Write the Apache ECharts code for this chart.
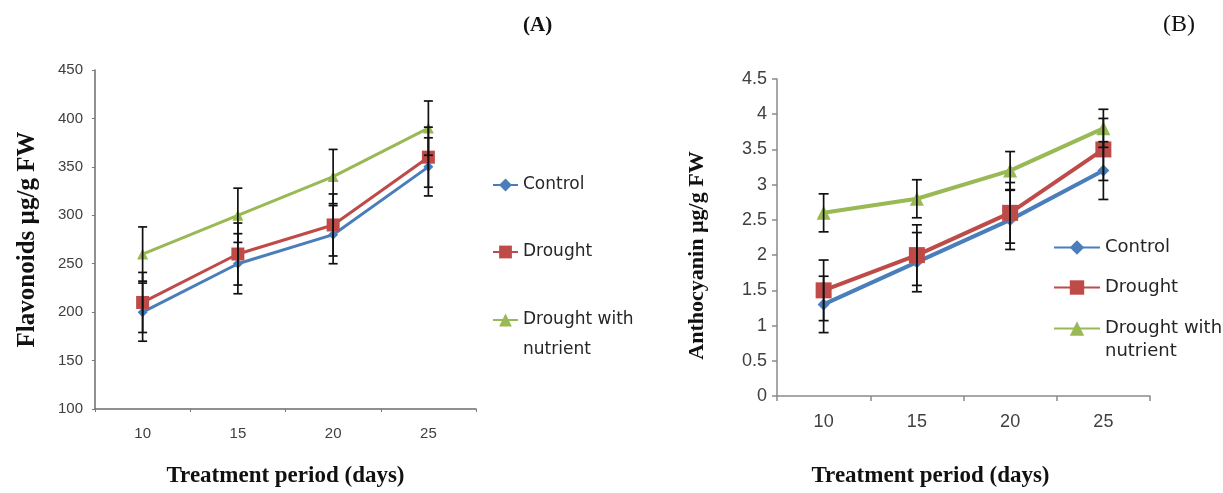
<!DOCTYPE html>
<html>
<head>
<meta charset="utf-8">
<script src="https://cdn.jsdelivr.net/npm/echarts@6/dist/echarts.min.js"></script>
<style>html,body{margin:0;padding:0;background:#fff;}#chart{width:1223px;height:493px;}</style>
</head>
<body>
<div id="chart"></div>
<script>
// ---- data ----
const days = ['10', '15', '20', '25'];
const seriesNames = ['Control', 'Drought', 'Drought with nutrient'];

// (A) Flavonoids µg/g FW
const flavControl = [200, 250, 280, 350];
const flavDrought = [210, 260, 290, 360];
const flavNutrient = [260, 300, 340, 390];
const flavControlErr = [30, 31, 30, 30];
const flavDroughtErr = [31, 32, 32, 31];
const flavNutrientErr = [28, 28, 28, 28];

// (B) Anthocyanin µg/g FW
const anthControl = [1.3, 1.9, 2.5, 3.2];
const anthDrought = [1.5, 2.0, 2.6, 3.5];
const anthNutrient = [2.6, 2.8, 3.2, 3.8];
const anthControlErr = [0.40, 0.42, 0.42, 0.41];
const anthDroughtErr = [0.43, 0.43, 0.43, 0.44];
const anthNutrientErr = [0.27, 0.27, 0.27, 0.27];

const flavTicks = {min: 100, max: 450, interval: 50};
const anthTicks = {min: 0, max: 4.5, interval: 0.5};

// ---- styles ----
const colors = ['#4A7EBB', '#BE4B48', '#98B954'];
const symbols = ['diamond', 'rect', 'triangle'];

const chart = echarts.init(document.getElementById('chart'), null, {renderer: 'canvas'});

function errData(vals, errs) {
  return vals.map((v, i) => [i, v - errs[i], v + errs[i]]);
}
function errSeries(vals, errs, gi, capW) {
  return {
    type: 'custom', xAxisIndex: gi, yAxisIndex: gi, z: 5, silent: true,
    encode: {x: 0, y: [1, 2]},
    data: errData(vals, errs),
    renderItem: function (params, api) {
      const x = api.value(0);
      const lo = api.coord([x, api.value(1)]);
      const hi = api.coord([x, api.value(2)]);
      const st = {stroke: '#111', lineWidth: 1.7};
      return {type: 'group', children: [
        {type: 'line', shape: {x1: hi[0], y1: hi[1], x2: lo[0], y2: lo[1]}, style: st},
        {type: 'line', shape: {x1: hi[0] - capW / 2, y1: hi[1], x2: hi[0] + capW / 2, y2: hi[1]}, style: st},
        {type: 'line', shape: {x1: lo[0] - capW / 2, y1: lo[1], x2: lo[0] + capW / 2, y2: lo[1]}, style: st}
      ]};
    }
  };
}
function lineSeries(name, vals, idx, gi, lw, sizes) {
  return {
    type: 'line', name: name, xAxisIndex: gi, yAxisIndex: gi, z: 3,
    data: vals, symbol: symbols[idx], symbolSize: sizes[idx], showSymbol: true,
    lineStyle: {color: colors[idx], width: lw},
    itemStyle: {color: colors[idx], borderWidth: 0}
  };
}

const sizesA = [10, 13, 11];
const sizesB = [12, 16, 14];
const valsA = [flavControl, flavDrought, flavNutrient];
const errsA = [flavControlErr, flavDroughtErr, flavNutrientErr];
const valsB = [anthControl, anthDrought, anthNutrient];
const errsB = [anthControlErr, anthDroughtErr, anthNutrientErr];

const series = [];
seriesNames.forEach((n, i) => series.push(lineSeries(n, valsA[i], i, 0, 3, sizesA)));
seriesNames.forEach((n, i) => series.push(lineSeries(n, valsB[i], i, 1, 4, sizesB)));
seriesNames.forEach((n, i) => series.push(errSeries(valsA[i], errsA[i], 0, 9)));
seriesNames.forEach((n, i) => series.push(errSeries(valsB[i], errsB[i], 1, 10)));

// the wrapped legend label: a leading blank line keeps "Drought with" level with its icon
const wrapName = n => '\n' + n.replace(' nutrient', '\nnutrient');

function legendBase(left, top, itemW, itemH, fontSize, lh, names, gap, formatter) {
  return {
    orient: 'vertical', left: left, top: top, padding: 0,
    itemWidth: itemW, itemHeight: itemH, itemGap: gap,
    selectedMode: false, data: names, formatter: formatter,
    textStyle: {fontFamily: 'DejaVu Sans', fontSize: fontSize, color: '#262626', lineHeight: lh}
  };
}

const option = {
  animation: false,
  backgroundColor: '#ffffff',
  graphic: [
    {type: 'text', left: 523, top: 15, style: {text: '(A)', font: 'bold 21px "Liberation Serif"', fill: '#111'}},
    {type: 'text', left: 1163, top: 13, style: {text: '(B)', font: '24px "Liberation Serif"', fill: '#111'}}
  ],
  grid: [
    {left: 95, top: 70, width: 381, height: 353, containLabel: false},
    {left: 777, top: 79, width: 373, height: 327, containLabel: false}
  ],
  xAxis: [
    {
      type: 'category', gridIndex: 0, data: days, boundaryGap: true,
      axisLine: {lineStyle: {color: '#6b6b6b', width: 1.5}},
      axisTick: {show: true, length: 3, lineStyle: {color: '#777'}},
      axisLabel: {color: '#404040', fontSize: 15, fontFamily: 'Liberation Sans', margin: 17},
      name: 'Treatment period (days)', nameLocation: 'middle', nameGap: 56,
      nameTextStyle: {fontFamily: 'Liberation Serif', fontWeight: 'bold', fontSize: 23, color: '#111'}
    },
    {
      type: 'category', gridIndex: 1, data: days, boundaryGap: true,
      axisLine: {lineStyle: {color: '#8a8a8a', width: 1.5}},
      axisTick: {show: true, length: 5, lineStyle: {color: '#8a8a8a', width: 1.5}},
      axisLabel: {color: '#404040', fontSize: 18, fontFamily: 'Liberation Sans', margin: 17},
      name: 'Treatment period (days)', nameLocation: 'middle', nameGap: 69,
      nameTextStyle: {fontFamily: 'Liberation Serif', fontWeight: 'bold', fontSize: 23, color: '#111', padding: [0, 66, 0, 0]}
    }
  ],
  yAxis: [
    {
      type: 'value', gridIndex: 0, min: flavTicks.min, max: flavTicks.max, interval: flavTicks.interval,
      splitLine: {show: false},
      axisLine: {show: true, lineStyle: {color: '#6b6b6b', width: 1.5}},
      axisTick: {show: true, length: 3, lineStyle: {color: '#777'}},
      axisLabel: {color: '#404040', fontSize: 15, fontFamily: 'Liberation Sans', margin: 12},
      name: 'Flavonoids µg/g FW', nameLocation: 'middle', nameGap: 55,
      nameTextStyle: {fontFamily: 'Liberation Serif', fontWeight: 'bold', fontSize: 25, color: '#111'}
    },
    {
      type: 'value', gridIndex: 1, min: anthTicks.min, max: anthTicks.max, interval: anthTicks.interval,
      splitLine: {show: false},
      axisLine: {show: true, lineStyle: {color: '#8a8a8a', width: 1.5}},
      axisTick: {show: true, length: 5, lineStyle: {color: '#8a8a8a', width: 1.5}},
      axisLabel: {color: '#404040', fontSize: 18, fontFamily: 'Liberation Sans', margin: 10},
      name: 'Anthocyanin µg/g FW', nameLocation: 'middle', nameGap: 69,
      nameTextStyle: {fontFamily: 'Liberation Serif', fontWeight: 'bold', fontSize: 22, color: '#111', padding: [0, 36, 0, 0]}
    }
  ],
  legend: [
    legendBase(492, 170, 25, 16, 17, 30, seriesNames.slice(0, 2), 37),
    legendBase(492, 275, 25, 16, 17, 30, seriesNames.slice(2), 0, wrapName),
    legendBase(1053, 236, 46, 18, 18, 23, seriesNames.slice(0, 2), 17),
    legendBase(1053, 294, 46, 18, 18, 23, seriesNames.slice(2), 0, wrapName)
  ],
  series: series
};
chart.setOption(option);
</script>
</body>
</html>
